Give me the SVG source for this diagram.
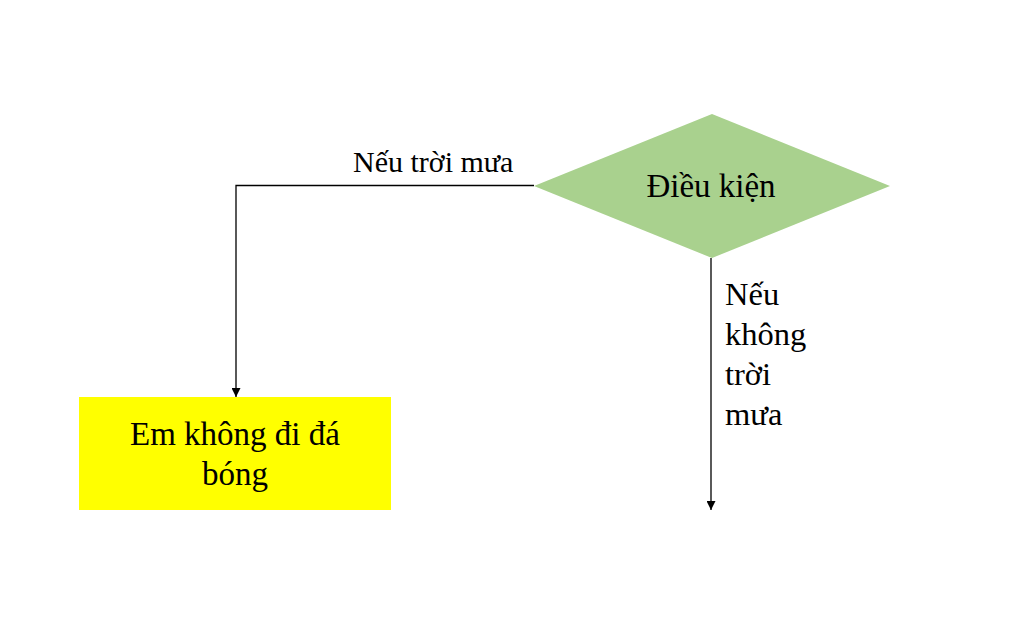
<svg xmlns="http://www.w3.org/2000/svg" width="1024" height="628" viewBox="0 0 1024 628">
<defs>
<marker id="arrow" viewBox="0 0 10 10" refX="10" refY="5" markerWidth="9" markerHeight="9" markerUnits="userSpaceOnUse" orient="auto">
<path d="M0,0 L10,5 L0,10 Z" fill="#000"/>
</marker>
</defs>
<style>
.t{font-family:"Liberation Serif","Times New Roman",serif;fill:#000}
.conn{fill:none;stroke:#000;stroke-width:1.3}
</style>
<rect width="1024" height="628" fill="#fff"/>
<g id="connectors">
<polyline class="conn" points="534,185.5 236,185.5 236,397" marker-end="url(#arrow)"/>
<line class="conn" x1="711" y1="258" x2="711" y2="510" marker-end="url(#arrow)"/>
<text class="t" x="353" y="172" font-size="30">Nếu trời mưa</text>
<text class="t" x="725" font-size="32.5"><tspan x="725" y="305">Nếu</tspan><tspan x="725" y="345">không</tspan><tspan x="725" y="385">trời</tspan><tspan x="725" y="425">mưa</tspan></text>
</g>
<g id="condition">
<polygon points="534,186 712,114 890,186 712,258" fill="#A9D18E"/>
<text class="t" x="711" y="197" font-size="33" text-anchor="middle">Điều kiện</text>
</g>
<g id="action">
<rect x="79" y="397" width="312" height="113" fill="#FFFF00"/>
<text class="t" font-size="33" text-anchor="middle"><tspan x="235" y="445">Em không đi đá</tspan><tspan x="235" y="485">bóng</tspan></text>
</g>
</svg>
